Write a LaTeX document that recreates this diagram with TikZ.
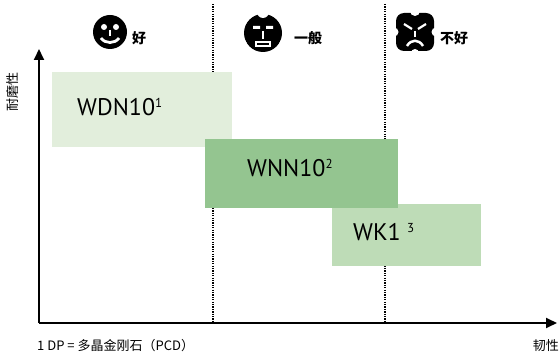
\documentclass[tikz,border=0pt]{standalone}
\usepackage{fontspec}
\setmainfont{PT Sans}
\newfontfamily\cjk{Noto Sans CJK SC}
\usetikzlibrary{arrows.meta}

\definecolor{wdncol}{RGB}{226,238,220}
\definecolor{wnncol}{RGB}{148,197,144}
\definecolor{wkcol}{RGB}{190,220,183}

\tikzset{
  grade/.style={fill=#1, draw=none, inner sep=0pt, anchor=north west},
  gradename/.style={anchor=base west, inner sep=0pt, font=\fontsize{24}{24}\selectfont},
  axisline/.style={line width=1.8pt, -{Triangle[length=11pt,width=10pt]}},
  zoneline/.style={line width=1.9pt, dash pattern=on 1.3pt off 1.1pt},
  cjklabel/.style={inner sep=0pt, font=\cjk\fontsize{13}{13}\selectfont},
  moodlabel/.style={inner sep=0pt, font=\cjk\bfseries\fontsize{14}{14}\selectfont},
  mark/.style={white, line width=#1},
}
\newcommand{\supnum}[1]{\raisebox{8pt}{\fontsize{13}{13}\selectfont #1}}

\begin{document}
\begin{tikzpicture}[x=1pt, y={(0,-1pt)}]
  \useasboundingbox (0,0) rectangle (559,358);

  % Zone separators
  \coordinate (z1top) at (213,4);
  \coordinate (z1bot) at (213,323);
  \coordinate (z2top) at (385,4);
  \coordinate (z2bot) at (385,323);
  \draw[zoneline] (z1top) -- (z1bot);
  \draw[zoneline] (z2top) -- (z2bot);

  % Grade boxes
  \node[grade=wdncol, minimum width=180pt, minimum height=75pt] (wdn) at (52,72) {};
  \node[grade=wkcol, minimum width=149pt, minimum height=62pt] (wk) at (332,204) {};
  \node[grade=wnncol, minimum width=193pt, minimum height=69pt] (wnn) at (205,139) {};
  \node[gradename] (wdnname) at (77,116) {WDN10\supnum{1}};
  \node[gradename] (wnnname) at (247,177) {WNN10\supnum{2}};
  \node[gradename] (wkname) at (353,240) {WK1 \supnum{3}};

  % Axes
  \coordinate (o) at (39,323);
  \coordinate (ytip) at (39,49);
  \coordinate (xtip) at (557,323);
  \draw[axisline] (o) -- (ytip);
  \draw[axisline] (o) -- (xtip);
  \node[cjklabel, rotate=90] (ylab) at (13,92) {耐磨性};
  \node[cjklabel, anchor=east] (xlab) at (559,346) {韧性};
  \node[cjklabel, anchor=west] (note) at (37,346) {1 DP = 多晶金刚石（PCD）};

  % Good
  \begin{scope}[shift={(110,32)}]
    \fill (0,0) circle (17pt);
    \fill[white] (-6,-5) circle (3pt) (6,-5) circle (3pt);
    \draw[mark=2pt] (0,-2) -- (0,4);
    \draw[mark=2.8pt] (-9,6) .. controls (-5,12) and (5,12) .. (9,6);
  \end{scope}
  \node[moodlabel] (good) at (139,38) {好};

  % Average
  \begin{scope}[shift={(263,33)}]
    \fill (0,0) circle (19pt);
    \fill[white] (0,-21) circle (6pt);
    \fill[white] (-20,10) circle (3.5pt) (20,10) circle (3.5pt);
    \fill[white] (-10,-7) rectangle (-3,-4) (3,-7) rectangle (10,-4);
    \draw[mark=1.6pt] (0,-2) -- (0,6);
    \draw[mark=1.3pt] (-7,9) rectangle (7,13);
  \end{scope}
  \node[moodlabel] (average) at (308,38) {一般};

  % Bad
  \begin{scope}[shift={(415,32)}]
    \fill[rounded corners=8pt] (-19,-19) rectangle (19,19);
    \fill[white] (0,-21) circle (5pt) (0,21) circle (4pt)
                 (-21,0) circle (4.5pt) (21,0) circle (4.5pt);
    \draw[mark=2.2pt] (-11,-8) -- (-3,-3);
    \draw[mark=2.2pt] (11,-8) -- (3,-3);
    \draw[mark=1.6pt] (0,-1) -- (0,5);
    \draw[mark=2.5pt] (-8,14) .. controls (-4,7) and (4,7) .. (8,14);
  \end{scope}
  \node[moodlabel] (bad) at (454,38) {不好};
\end{tikzpicture}
\end{document}
